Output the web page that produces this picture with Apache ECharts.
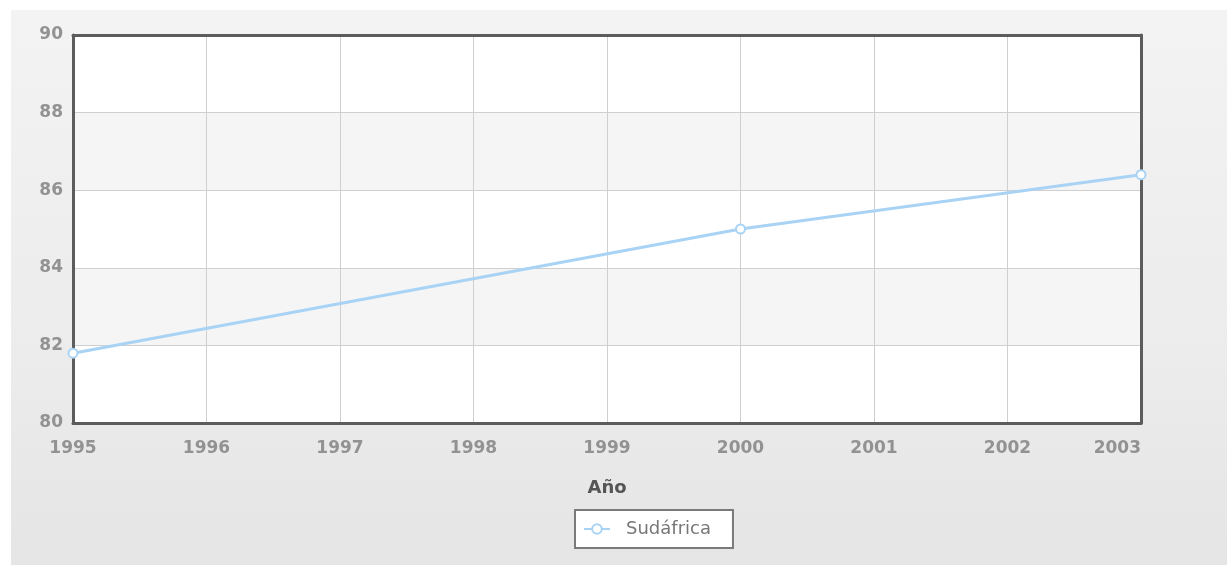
<!DOCTYPE html>
<html>
<head>
<meta charset="utf-8">
<script src="https://cdn.jsdelivr.net/npm/echarts@6/dist/echarts.min.js"></script>
<style>
  html, body { margin: 0; padding: 0; background: #ffffff; }
  #bg { position: absolute; left: 11px; top: 10px; width: 1216px; height: 555px;
        background: linear-gradient(to bottom, #f3f3f3 0%, #ececec 60%, #e5e5e5 100%); }
  #chart { position: absolute; left: 0; top: 0; width: 1227px; height: 565px; }
</style>
</head>
<body>
<div id="bg"></div>
<div id="chart"></div>
<script>
const seriesName = 'Sudáfrica';
const xAxisName = 'Año';
const years = [1995, 2000, 2003];
const values = [81.8, 85.0, 86.4];

const chart = echarts.init(document.getElementById('chart'));
const labelFont = { fontFamily: 'DejaVu Sans', fontSize: 17, fontWeight: 'bold', color: '#929292' };
const frameLine = { show: true, lineStyle: { color: '#5c5c5c', width: 3 } };

chart.setOption({
  backgroundColor: 'transparent',
  animation: false,
  grid: {
    left: 73, right: 86, top: 35, bottom: 142,
    show: true, borderWidth: 0, backgroundColor: '#ffffff'
  },
  xAxis: [{
    type: 'value', min: 1995, max: 2003, interval: 1,
    name: xAxisName, nameLocation: 'middle', nameGap: 56,
    nameTextStyle: { fontFamily: 'DejaVu Sans', fontSize: 18, fontWeight: 'bold', color: '#555555' },
    axisLine: frameLine,
    axisTick: { show: false },
    axisLabel: Object.assign({ margin: 17, formatter: v => String(v), alignMaxLabel: 'right' }, labelFont),
    splitLine: { show: true, lineStyle: { color: '#cfcfcf', width: 1 } },
    z: 3
  }, {
    type: 'value', position: 'top', min: 1995, max: 2003, interval: 1,
    axisLine: frameLine, axisTick: { show: false }, axisLabel: { show: false }, splitLine: { show: false },
    z: 3
  }],
  yAxis: [{
    type: 'value', min: 80, max: 90, interval: 2,
    axisLine: frameLine,
    axisTick: { show: false },
    axisLabel: Object.assign({ margin: 10 }, labelFont),
    splitLine: { show: true, lineStyle: { color: '#cfcfcf', width: 1 } },
    splitArea: { show: true, areaStyle: { color: ['#ffffff', '#f5f5f5'] } },
    z: 3
  }, {
    type: 'value', position: 'right', min: 80, max: 90, interval: 2,
    axisLine: frameLine, axisTick: { show: false }, axisLabel: { show: false }, splitLine: { show: false },
    z: 3
  }],
  legend: {
    left: 575, top: 510,
    backgroundColor: '#ffffff', borderColor: '#7a7a7a', borderWidth: 2, borderRadius: 0,
    padding: [10, 22, 10, 8],
    itemWidth: 26, itemHeight: 12, itemGap: 10,
    textStyle: { fontFamily: 'DejaVu Sans', fontSize: 18, color: '#777777', padding: [0, 0, 0, 11] },
    data: [seriesName]
  },
  series: [{
    name: seriesName,
    type: 'line',
    xAxisIndex: 0, yAxisIndex: 0,
    data: years.map((y, i) => [y, values[i]]),
    clip: false,
    symbol: 'circle', symbolSize: 9,
    lineStyle: { color: '#a9d3f5', width: 3 },
    itemStyle: { color: '#ffffff', borderColor: '#a9d3f5', borderWidth: 2 },
    z: 5
  }]
});
</script>
</body>
</html>
